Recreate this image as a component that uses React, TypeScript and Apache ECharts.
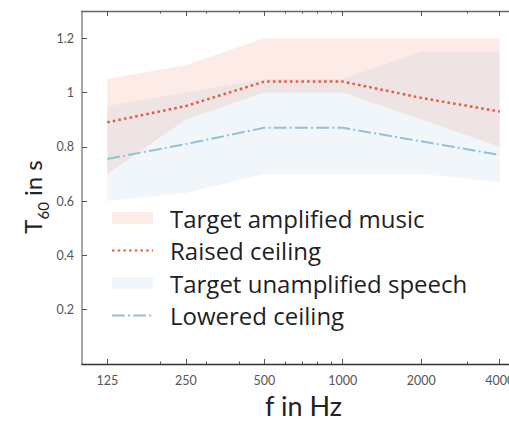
import React, { useEffect, useRef } from "react";
import * as echarts from "echarts";

const freqs = [125, 250, 500, 1000, 2000, 4000];
const musicLow = [0.7, 0.9, 1.0, 1.0, 0.9, 0.8];
const musicHigh = [1.05, 1.1, 1.2, 1.2, 1.2, 1.2];
const speechLow = [0.6, 0.63, 0.7, 0.7, 0.7, 0.67];
const speechHigh = [0.95, 1.0, 1.05, 1.05, 1.15, 1.15];
const raised = [0.89, 0.95, 1.04, 1.04, 0.98, 0.93];
const lowered = [0.755, 0.81, 0.87, 0.87, 0.82, 0.77];
const majorTicks = [125, 250, 500, 1000, 2000, 4000];
const minorTicks = [200, 300, 400, 600, 700, 800, 900, 3000];
const yTicks = [0.2, 0.4, 0.6, 0.8, 1, 1.2];

const FONT = "Lato";
const LFONT = "Open Sans";
const PINK = "rgba(232,110,80,0.14)";
const BLUE = "rgba(125,175,215,0.11)";
const RED = "#e8583e";
const LBLUE = "#92c2d6";

function band(name: string, lo: number[], hi: number[], color: string) {
  return {
    name,
    type: "custom",
    xAxisIndex: 0,
    yAxisIndex: 0,
    z: 1,
    silent: true,
    itemStyle: { color },
    encode: { x: 0, y: [1, 2] },
    data: freqs.map((f, i) => [f, lo[i], hi[i]]),
    renderItem: (params: any, api: any) => {
      if (params.dataIndex !== 0) return null;
      const top = freqs.map((f, i) => api.coord([f, hi[i]]));
      const bot = freqs.map((f, i) => api.coord([f, lo[i]])).reverse();
      return {
        type: "polygon",
        shape: { points: top.concat(bot) },
        style: { fill: color },
      };
    },
  };
}

function xAx(position: string, ticks: number[], len: number, showLine: boolean, lineColor: string, labels: boolean, extra: any = {}) {
  return {
    type: "log",
    logBase: 2,
    min: 100,
    max: 5000,
    position,
    gridIndex: 0,
    axisLine: { show: showLine, lineStyle: { color: lineColor, width: 1.4 } },
    axisTick: { show: true, inside: true, length: len, customValues: ticks, lineStyle: { color: "#555", width: 1 } },
    axisLabel: labels
      ? { show: true, customValues: ticks, margin: 10, fontSize: 12.5, color: "#555", fontFamily: FONT, formatter: (v: number) => String(Math.round(v)) }
      : { show: false },
    splitLine: { show: false },
    minorTick: { show: false },
    ...extra,
  };
}

const hideSymbol = { itemStyle: { opacity: 0, borderWidth: 0 } };

export default function App() {
  const ref = useRef<HTMLDivElement>(null);
  useEffect(() => {
    if (!ref.current) return;
    const chart = echarts.init(ref.current, undefined, { renderer: "svg" });
    chart.setOption({
      animation: false,
      textStyle: { fontFamily: FONT },
      grid: { left: 82, top: 11, right: -16, bottom: 58, outerBoundsMode: "none", containLabel: false },
      legend: {
        left: 111,
        top: 206,
        orient: "vertical",
        padding: 0,
        itemGap: 8.5,
        itemWidth: 41,
        itemHeight: 12,
        selectedMode: false,
        textStyle: { fontSize: 24, color: "#1f1f1f", fontFamily: LFONT, lineHeight: 24, padding: [0, 0, 0, 12] },
        data: [
          { name: "Target amplified music", icon: "rect" },
          { name: "Raised ceiling", ...hideSymbol },
          { name: "Target unamplified speech", icon: "rect" },
          { name: "Lowered ceiling", ...hideSymbol },
        ],
      },
      graphic: [
        {
          type: "text",
          x: 35,
          y: 197,
          rotation: Math.PI / 2,
          silent: true,
          style: {
            text: "{a|T}{b|60}{a| in s}",
            align: "center",
            verticalAlign: "middle",
            rich: {
              a: { fontSize: 24, fontFamily: FONT, fill: "#222", verticalAlign: "top", lineHeight: 30 },
              b: { fontSize: 15, fontFamily: FONT, fill: "#222", verticalAlign: "bottom", lineHeight: 15 },
            },
          },
        },
      ],
      xAxis: [
        xAx("bottom", majorTicks, 5, true, "#333", true, {
          name: "f in Hz",
          nameLocation: "middle",
          nameGap: 23,
          nameTextStyle: { fontSize: 27, color: "#222", fontFamily: FONT },
        }),
        xAx("bottom", minorTicks, 2.5, false, "#333", false),
        xAx("top", majorTicks, 5, true, "#666", false),
        xAx("top", minorTicks, 2.5, false, "#666", false),
      ],
      yAxis: [
        {
          type: "value",
          min: 0,
          max: 1.3,
          position: "left",
          axisLine: { show: true, lineStyle: { color: "#8a8a8a", width: 1.5 } },
          axisTick: { show: true, inside: true, length: 5, customValues: yTicks, lineStyle: { color: "#555" } },
          axisLabel: { show: true, customValues: yTicks, margin: 8, fontSize: 12.5, color: "#555", fontFamily: FONT },
          splitLine: { show: false },
        },
      ],
      series: [
        band("Target amplified music", musicLow, musicHigh, PINK),
        {
          name: "Raised ceiling",
          type: "line",
          z: 3,
          symbol: "none",
          silent: true,
          itemStyle: { color: RED },
          lineStyle: { color: RED, width: 2.5, type: [2.5, 3.2] },
          data: freqs.map((f, i) => [f, raised[i]]),
        },
        band("Target unamplified speech", speechLow, speechHigh, BLUE),
        {
          name: "Lowered ceiling",
          type: "line",
          z: 3,
          symbol: "none",
          silent: true,
          itemStyle: { color: LBLUE },
          lineStyle: { color: LBLUE, width: 2, type: [12.8, 3.2, 2, 3.2] },
          data: freqs.map((f, i) => [f, lowered[i]]),
        },
      ],
    });
    return () => chart.dispose();
  }, []);
  return <div ref={ref} style={{ position: "absolute", left: 0, top: 0, width: 509, height: 422 }} />;
}
